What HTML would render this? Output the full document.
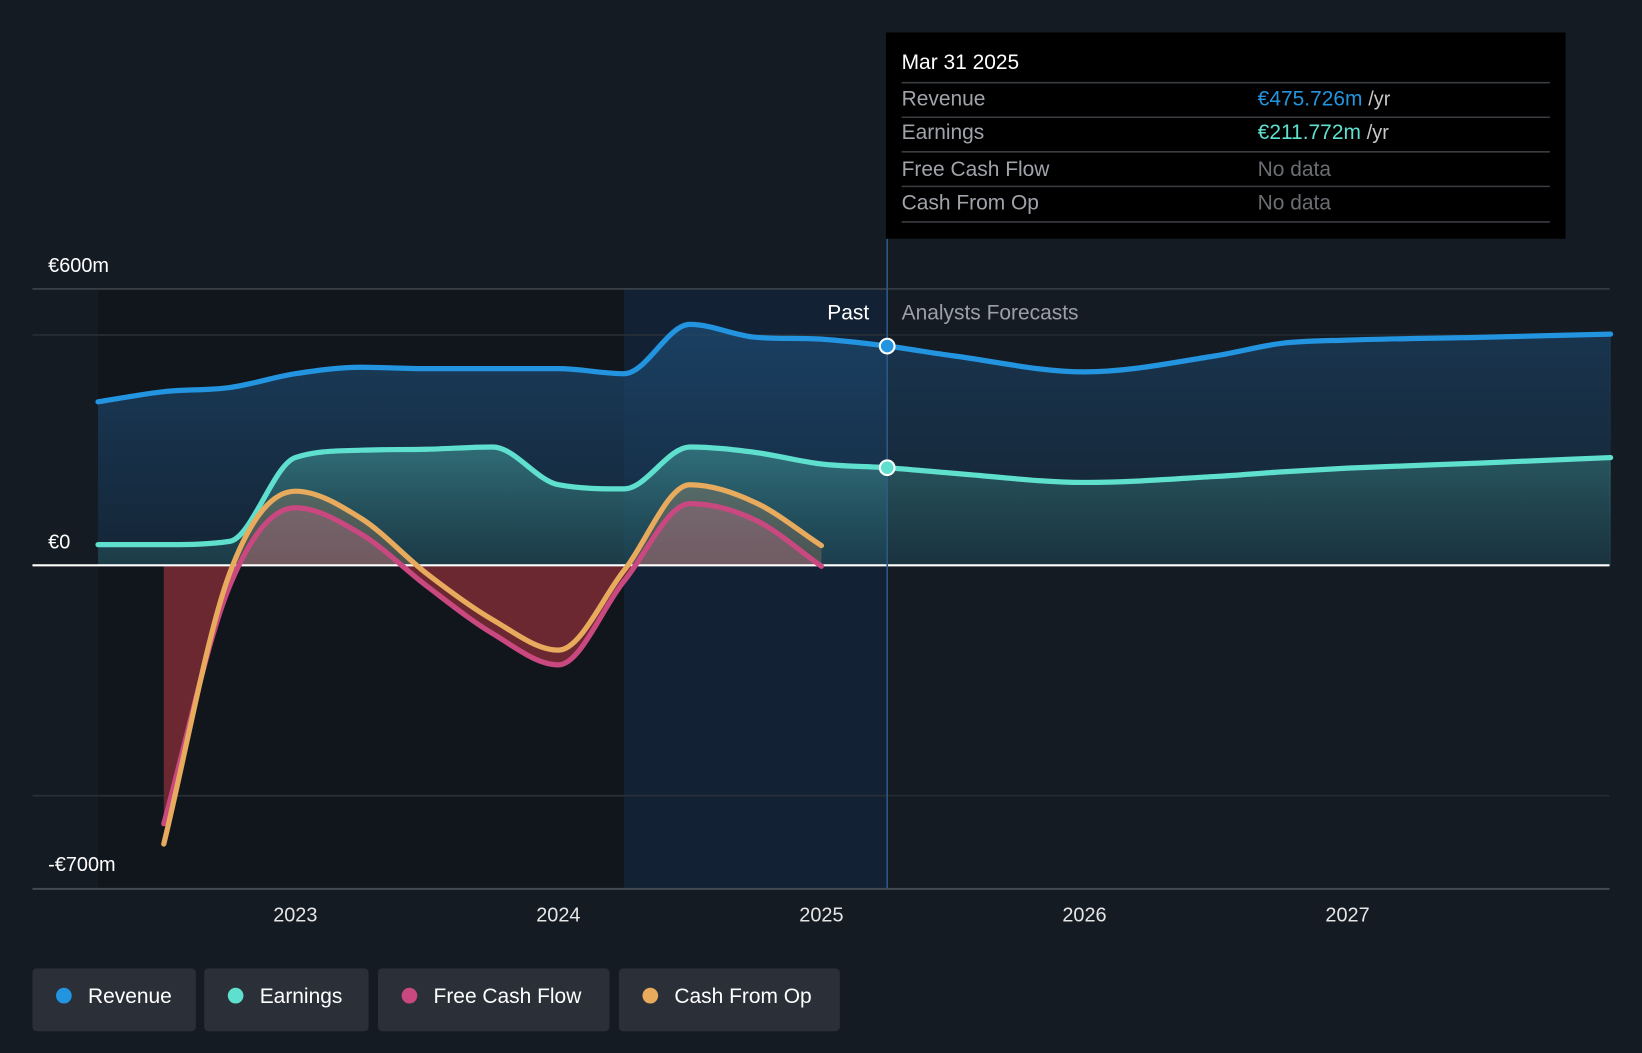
<!DOCTYPE html>
<html><head><meta charset="utf-8">
<style>
html,body{margin:0;padding:0;background:#151b23;}
body{width:1642px;height:1048px;overflow:hidden;font-family:"Liberation Sans",sans-serif;}
svg text{font-family:"Liberation Sans",sans-serif;}
</style></head>
<body>
<svg id="chart" width="1642" height="1048" viewBox="0 0 1568 1001" preserveAspectRatio="none" xmlns="http://www.w3.org/2000/svg">
<defs>
<linearGradient id="gRev" x1="0" y1="0" x2="0" y2="1"><stop offset="0" stop-color="#1d4a72" stop-opacity="0.75"/><stop offset="1" stop-color="#173048" stop-opacity="0.6"/></linearGradient>
<linearGradient id="gEarn" x1="0" y1="0" x2="0" y2="1"><stop offset="0" stop-color="#4fb8b0" stop-opacity="0.45"/><stop offset="1" stop-color="#2b6a6a" stop-opacity="0.3"/></linearGradient>
<clipPath id="clipPos"><rect x="0" y="0" width="1568" height="540"/></clipPath>
<clipPath id="clipNeg"><rect x="0" y="540" width="1568" height="400"/></clipPath>
</defs>
<rect x="0" y="0" width="1568" height="1001" fill="#151b23"/>
<g id="bg"></g>
<g id="grid"></g>
<g id="areas"></g>
<g id="lines"></g>
<g id="axes"></g>
</svg>
<script>
const years = [2022.25,2022.5,2022.75,2023,2023.25,2023.5,2023.75,2024,2024.25,2024.5,2024.75,2025,2025.25];
const revenue = [355,377,386,416,430,427,427,427,416,523,495,491,476];
const earnings = [45,45,52,234,250,252,257,175,166,257,245,220,212];
const fcfYears = [2022.5,2022.75,2023,2023.25,2023.5,2023.75,2024,2024.25,2024.5,2024.75,2025];
const fcf = [-561,-45,125,68,-45,-148,-216,-34,134,98,-2];
const cfo = [-605,-18,161,102,-18,-118,-184,-11,175,136,43];
const fcYears = [2025.25,2025.5,2026,2026.5,2026.75,2027,2027.5,2028];
const fcRevenue = [476,455,420,455,482,489,495,502];
const fcEarnings = [212,200,180,193,203,211,222,234];
const yTicks = [600,0,-700];
const xTicks = [2023,2024,2025,2026,2027];

const NS="http://www.w3.org/2000/svg";
const X = y => 282 + (y-2023)*251.2;
const Y = v => 540 - v*0.44;
function el(t,a,p){const e=document.createElementNS(NS,t);for(const k in a)e.setAttribute(k,a[k]);(p||document.getElementById('chart')).appendChild(e);return e;}
function path(xs,vs){
  const p=xs.map((x,i)=>[X(x),Y(vs[i])]);
  const n=p.length, d=[], m=new Array(n);
  for(let i=0;i<n-1;i++) d.push((p[i+1][1]-p[i][1])/(p[i+1][0]-p[i][0]));
  m[0]=d[0]; m[n-1]=d[n-2];
  for(let i=1;i<n-1;i++){
    if(d[i-1]*d[i]<=0) m[i]=0;
    else { m[i]=(d[i-1]+d[i])/2; const a=m[i]/d[i-1], b=m[i]/d[i]; const s=a*a+b*b; if(s>9){const t=3/Math.sqrt(s); m[i]=t*a*d[i-1];} }
  }
  let s=`M${p[0][0]},${p[0][1]}`;
  for(let i=0;i<n-1;i++){
    const h=(p[i+1][0]-p[i][0])/3;
    s+=` C${p[i][0]+h},${p[i][1]+m[i]*h} ${p[i+1][0]-h},${p[i+1][1]-m[i+1]*h} ${p[i+1][0]},${p[i+1][1]}`;
  }
  return s;
}
const bg=document.getElementById('bg'),grid=document.getElementById('grid'),areas=document.getElementById('areas'),lines=document.getElementById('lines'),axes=document.getElementById('axes');
let r;
r=el('rect',{x:X(2022.25),y:276,width:X(2024.25)-X(2022.25),height:573,fill:'#10141b','opacity':0.7},bg);


r=el('rect',{x:X(2024.25),y:276,width:X(2025.25)-X(2024.25),height:573,fill:'#122234'},bg);


[[600,'#3d434c'],[500,'#2a3038'],[-500,'#2a3038']].forEach(g=>{
  const l=el('line',{x1:31,x2:1537,y1:Y(g[0]),y2:Y(g[0]),stroke:g[1],'stroke-width':1.5},grid);
  
  
});
const allRevX=years.concat(fcYears.slice(1)),allRev=revenue.concat(fcRevenue.slice(1));
const allEarnX=years.concat(fcYears.slice(1)),allEarn=earnings.concat(fcEarnings.slice(1));
function area(xs,vs,fill,name,clip){
  const a=el('path',{d:path(xs,vs)+` L${X(xs[xs.length-1])},540 L${X(xs[0])},540 Z`,fill:fill},areas);
  if(clip)a.setAttribute('clip-path',clip);
  
  
}
area(allRevX,allRev,'url(#gRev)','revenue-area');
area(allEarnX,allEarn,'url(#gEarn)','earnings-area');
area(fcfYears,cfo,'rgba(220,150,100,0.25)','cfo-area-positive','url(#clipPos)');
area(fcfYears,fcf,'rgba(200,110,140,0.3)','fcf-area-positive','url(#clipPos)');
area(fcfYears,fcf,'#6b2830','fcf-area-negative','url(#clipNeg)');
r=el('rect',{x:X(2025.25),y:276,width:1537-X(2025.25),height:573,fill:'#151b23',opacity:0.25},areas);


r=el('line',{x1:31,x2:1537,y1:Y(0),y2:Y(0),stroke:'#ffffff','stroke-width':2},lines);


function line(xs,vs,c,name){
  const l=el('path',{d:path(xs,vs),fill:'none',stroke:c,'stroke-width':5,'stroke-linecap':'round'},lines);
  
  
}
line(allRevX,allRev,'#2394df','revenue-line');
line(allEarnX,allEarn,'#5fe0cf','earnings-line');
line(fcfYears,fcf,'#c8487f','fcf-line');
line(fcfYears,cfo,'#e8aa5c','cfo-line');
r=el('line',{x1:X(2025.25),x2:X(2025.25),y1:228,y2:849,stroke:'#2c5a85','stroke-width':1.5},lines);


r=el('circle',{cx:X(2025.25),cy:Y(revenue[12]),r:7,fill:'#2394df',stroke:'#fff','stroke-width':2},lines);


r=el('circle',{cx:X(2025.25),cy:Y(earnings[12]),r:7,fill:'#5fe0cf',stroke:'#fff','stroke-width':2},lines);


r=el('line',{x1:31,x2:1537,y1:849,y2:849,stroke:'#444a54','stroke-width':2},axes);


const yLbl={600:'€600m',0:'€0','-700':'-€700m'};
yTicks.forEach(v=>{
  const t=el('text',{x:46,y:Y(v)-16,fill:'#ffffff','font-size':19},axes);
  t.textContent=yLbl[v];
  
  
});
xTicks.forEach(v=>{
  const t=el('text',{x:X(v),y:880,fill:'#e6e6e6','font-size':19,'text-anchor':'middle'},axes);
  t.textContent=v;
  
  
});
let t=el('text',{x:830,y:305,fill:'#ffffff','font-size':20,'text-anchor':'end'},axes);t.textContent='Past';


t=el('text',{x:861,y:305,fill:'#9ba0a8','font-size':20},axes);t.textContent='Analysts Forecasts';


</script>
<svg style="position:absolute;left:0;top:0" width="1642" height="1048" viewBox="0 0 1568 1001" preserveAspectRatio="none">
<g>
<rect x="846" y="31" width="649" height="197" fill="#000"/>
<text x="861" y="66" fill="#fff" font-size="20">Mar 31 2025</text>
<line x1="861" x2="1480" y1="79" y2="79" stroke="#3a3d42" stroke-width="1.5"/>
<text x="861" y="101" fill="#a0a4aa" font-size="20">Revenue</text>
<text x="1201" y="101" font-size="20" fill="#2394df">€475.726m <tspan fill="#c8c8c8" font-size="19">/yr</tspan></text>
<line x1="861" x2="1480" y1="112" y2="112" stroke="#3a3d42" stroke-width="1.5"/>
<text x="861" y="133" fill="#a0a4aa" font-size="20">Earnings</text>
<text x="1201" y="133" font-size="20" fill="#5fe0cf">€211.772m <tspan fill="#c8c8c8" font-size="19">/yr</tspan></text>
<line x1="861" x2="1480" y1="145" y2="145" stroke="#3a3d42" stroke-width="1.5"/>
<text x="861" y="168" fill="#a0a4aa" font-size="20">Free Cash Flow</text>
<text x="1201" y="168" font-size="20" fill="#6b6e73">No data</text>
<line x1="861" x2="1480" y1="178" y2="178" stroke="#3a3d42" stroke-width="1.5"/>
<text x="861" y="200" fill="#a0a4aa" font-size="20">Cash From Op</text>
<text x="1201" y="200" font-size="20" fill="#6b6e73">No data</text>
<line x1="861" x2="1480" y1="212" y2="212" stroke="#3a3d42" stroke-width="1.5"/>
</g>
<g><rect x="31" y="925" width="156" height="60" rx="4" fill="#2a2f38"/><circle cx="61" cy="951" r="7.5" fill="#2394df"/><text x="84" y="958" fill="#fff" font-size="20">Revenue</text></g>
<g><rect x="195" y="925" width="157" height="60" rx="4" fill="#2a2f38"/><circle cx="225" cy="951" r="7.5" fill="#5fe0cf"/><text x="248" y="958" fill="#fff" font-size="20">Earnings</text></g>
<g><rect x="361" y="925" width="221" height="60" rx="4" fill="#2a2f38"/><circle cx="391" cy="951" r="7.5" fill="#c8487f"/><text x="414" y="958" fill="#fff" font-size="20">Free Cash Flow</text></g>
<g><rect x="591" y="925" width="211" height="60" rx="4" fill="#2a2f38"/><circle cx="621" cy="951" r="7.5" fill="#e8aa5c"/><text x="644" y="958" fill="#fff" font-size="20">Cash From Op</text></g>
</svg>
</body></html>
